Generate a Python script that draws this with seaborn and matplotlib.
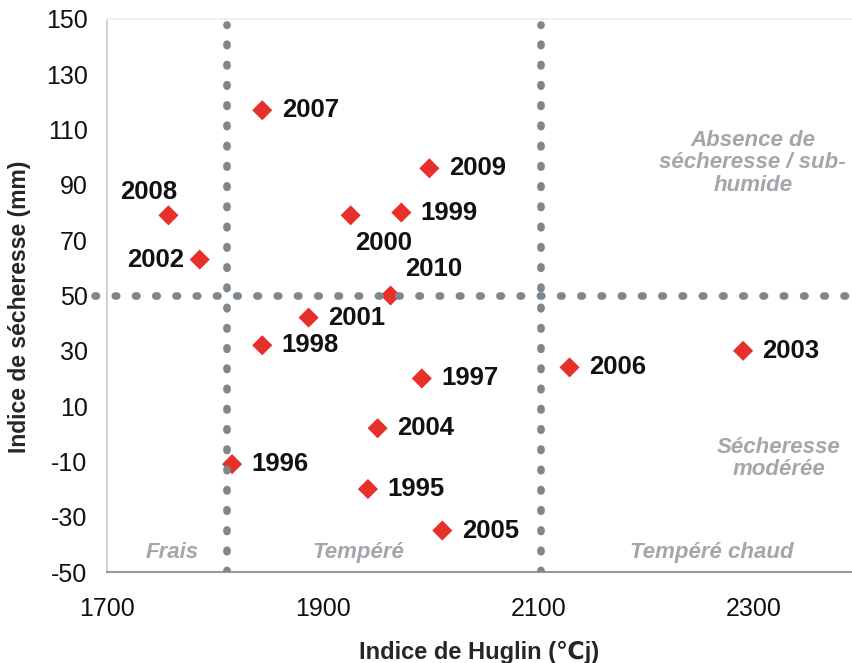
import matplotlib
matplotlib.use("Agg")
import matplotlib.pyplot as plt
import seaborn as sns
import pandas as pd

# data
years = ['2007', '2008', '2002', '2009', '1999', '2000', '2010', '2001',
         '1998', '1997', '2004', '1995', '2005', '1996', '2006', '2003']
huglin = [1844, 1757, 1786, 1999, 1973, 1926, 1963, 1887,
          1844, 1992, 1951, 1942, 2011, 1816, 2129, 2290]
drought = [117, 79, 63, 96, 80, 79, 50, 42,
           32, 20, 2, -20, -35, -11, 24, 30]

# label offsets (points) and alignment per year
label_pos = {
    '2008': (-14, 17, 'center'),
    '2002': (-11, 0, 'right'),
    '2000': (24, -20, 'center'),
    '2010': (31, 19, 'center'),
}

x_ticks = [1700, 1900, 2100, 2300]
y_ticks = list(range(-50, 151, 20))
huglin_limits = [1811, 2103]
drought_limit = 50

zones = [
    ('Frais', 1760, -43),
    ('Tempéré', 1933, -43),
    ('Tempéré chaud', 2261, -43),
    ('Absence de\nsécheresse / sub-\nhumide', 2299, 98),
    ('Sécheresse\nmodérée', 2323, -9),
]

df = pd.DataFrame({'year': years, 'huglin': huglin, 'drought': drought})

sns.set_theme(style='white')
plt.rcParams['font.family'] = ['Liberation Sans', 'DejaVu Sans']
plt.rcParams['axes.unicode_minus'] = False

fig = plt.figure(figsize=(8.52, 6.63), dpi=100)
ax = fig.add_axes([107 / 852, 1 - 572 / 663, 745 / 852, 553 / 663])

sns.scatterplot(data=df, x='huglin', y='drought', ax=ax, marker='D', s=105,
                color='#e8302a', edgecolor='none', zorder=2)

dot_lines = [ax.axvline(v, ymax=0.99) for v in huglin_limits]
dot_lines.append(ax.axhline(drought_limit, xmin=-0.016, clip_on=False))
for ln in dot_lines:
    ln.set_color('#7d878d')
    ln.set_linewidth(5.5)
    ln.set_linestyle((0, (0.2, 2.45)))
    ln.set_dash_capstyle('round')
    ln.set_zorder(3)

for yr, xv, yv in zip(years, huglin, drought):
    dx, dy, ha = label_pos.get(yr, (14, 0, 'left'))
    ax.annotate(yr, (xv, yv), xytext=(dx, dy), textcoords='offset points',
                ha=ha, va='center', fontsize=18.5, fontweight='bold', color='#111111')

for txt, xv, yv in zones:
    ax.text(xv, yv, txt, ha='center', va='center', fontsize=16, style='italic',
            fontweight='bold', color='#a3a7ab', linespacing=1.1)

ax.set_xlim(1700, 2391)
ax.set_ylim(-50, 150)
ax.set_xticks(x_ticks)
ax.set_yticks(y_ticks)
ax.tick_params(axis='both', labelsize=18, direction='inout', length=8,
               width=1, colors='#111111')
ax.tick_params(axis='both', color='#aaaaaa')
ax.tick_params(axis='x', pad=14)
ax.tick_params(axis='y', pad=10)

ax.spines['right'].set_visible(False)
ax.spines['top'].set_color('#eeeeee')
ax.spines['left'].set_color('#cccccc')
ax.spines['bottom'].set_color('#999999')
ax.spines['bottom'].set_linewidth(1.5)

ax.set_xlabel('Indice de Huglin (℃j)', fontsize=17, fontweight='bold', labelpad=14)
ax.set_ylabel('Indice de sécheresse (mm)', fontsize=16.5, fontweight='bold')
ax.yaxis.set_label_coords(-0.102, 0.48)

fig.savefig('out.png', dpi=100)
